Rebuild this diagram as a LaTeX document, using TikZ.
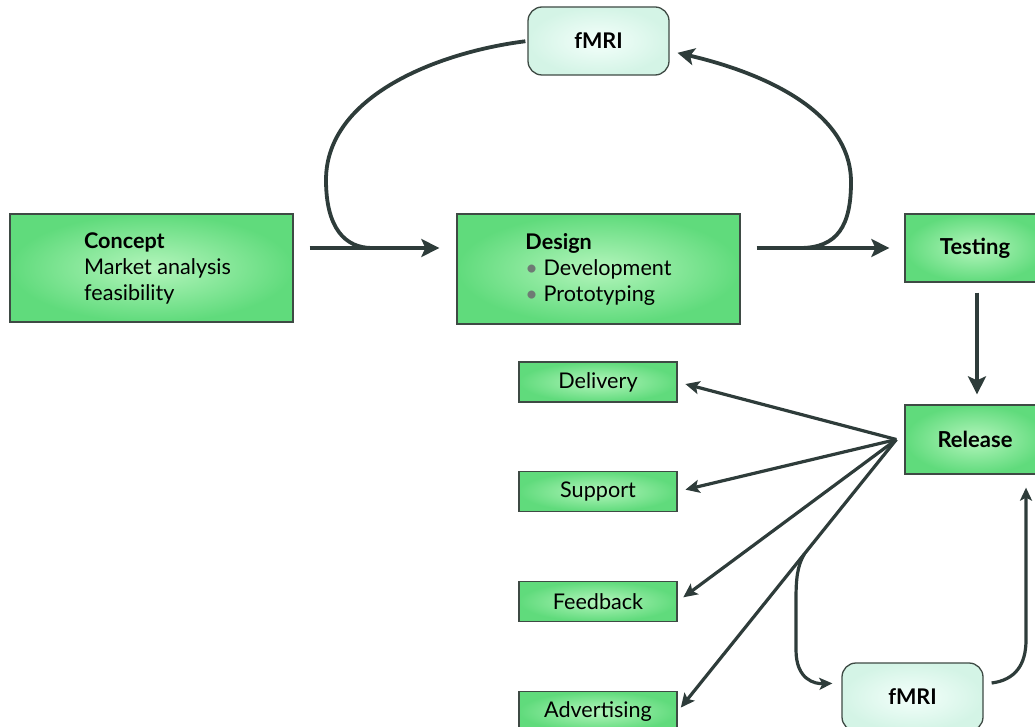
\documentclass[tikz,border=0pt]{standalone}
\usepackage{fontspec}
\setmainfont{Lato}
\usetikzlibrary{arrows.meta,calc}
\definecolor{ink}{HTML}{2E3C3A}
\definecolor{boxedge}{HTML}{3E4A44}
\definecolor{greenin}{HTML}{B4F5BC}
\definecolor{greenout}{HTML}{60DB7C}
\definecolor{mintin}{HTML}{F4FFFB}
\definecolor{mintout}{HTML}{D4F4E6}
\definecolor{dotgray}{HTML}{6E7A74}
\begin{document}
\begin{tikzpicture}[x=1pt,y=-1pt,
  stage/.style={draw=boxedge, line width=1.3pt, inner color=greenin, outer color=greenout,
    font=\fontsize{21.6}{26}\selectfont, align=left, inner sep=0pt},
  task/.style={stage, minimum width=158pt, minimum height=40pt, font=\fontsize{21.6}{24}\selectfont},
  probe/.style={draw=boxedge, line width=1.3pt, rounded corners=14pt, inner color=mintin, outer color=mintout,
    minimum width=141pt, minimum height=68pt, font=\bfseries\fontsize{21.6}{24}\selectfont},
  flow/.style={draw=ink, line width=4pt, -{Stealth[length=18pt,width=18pt,inset=4pt]}},
  loopline/.style={draw=ink, line width=3.8pt},
  loopflow/.style={loopline, -{Stealth[length=17pt,width=17pt,inset=4pt]}},
  fanflow/.style={draw=ink, line width=3.2pt, -{Stealth[length=14pt,width=13pt,inset=3pt]}},
  thinflow/.style={draw=ink, line width=3.2pt, -{Stealth[length=13pt,width=12pt,inset=3pt]}}
]
\clip (0,0) rectangle (1035,727);

% main stages
\node[stage, minimum width=283pt, minimum height=108pt] (concept) at (151.5,268)
  {\hspace*{12pt}\textbf{Concept}\\\hspace*{12pt}Market analysis\\\hspace*{12pt}feasibility};
\node[stage, minimum width=283pt, minimum height=110pt] (design) at (598.5,269)
  {\textbf{Design}\\{\color{dotgray}\textbullet} Development\\{\color{dotgray}\textbullet} Prototyping};
\node[stage, minimum width=140pt, minimum height=68pt, font=\bfseries\fontsize{22}{24}\selectfont] (testing) at (975,248) {Testing};
\node[stage, minimum width=140pt, minimum height=69pt, font=\bfseries\fontsize{22}{24}\selectfont] (release) at (975,439.5) {Release};

% release outputs
\node[task] (delivery) at (598,382) {Delivery};
\node[task] (support) at (598,491.5) {Support};
\node[task] (feedback) at (598,601.5) {Feedback};
\node[task] (advertising) at (598,711.5) {Advertising};

% fMRI probes
\node[probe] (fmriTop) at (598.5,41) {fMRI};
\node[probe] (fmriBot) at (912.5,697) {fMRI};

% main flow
\draw[flow, shorten <=16pt, shorten >=17pt] (concept.east |- testing.west) -- (design.west |- testing.west);
\draw[flow, shorten <=16pt, shorten >=15pt] (design.east |- testing.west) -- (testing.west);
\draw[flow, shorten <=10pt, shorten >=10pt] ([xshift=2pt]testing.south) -- ([xshift=2pt]release.north);

% loop through the upper fMRI probe
\coordinate (j1) at (372,248);
\coordinate (j2) at (800,248);
\draw[loopline, shorten <=2pt] (fmriTop.west) .. controls (440,52) and (326,95) .. (326,180)
  .. controls (326,228) and (345,248) .. (j1);
\draw[loopflow, shorten >=8pt] (j2) .. controls (838,248) and (851,225) .. (851,182)
  .. controls (851,110) and (760,72) .. ([yshift=-10pt]fmriTop.east);

% fan of release outputs
\coordinate (fan) at ([xshift=-8pt]release.west);
\draw[fanflow, shorten >=8pt] (fan) -- (delivery.east);
\draw[fanflow, shorten >=8pt] (fan) -- (support.east);
\draw[fanflow, shorten >=7pt] (fan) -- (feedback.east);
\draw[fanflow, shorten >=5pt] (fan) -- (advertising.east);

% loop through the lower fMRI probe
\coordinate (b) at ($(fan)!0.42!(advertising.east)$);
\draw[thinflow, shorten >=9pt] (b) .. controls (797,566) and (796,580) .. (796,600) -- (796,650)
  .. controls (796,680) and (815,684) .. ([yshift=14pt]fmriBot.west);
\draw[thinflow, shorten >=13pt] ([xshift=8pt,yshift=14pt]fmriBot.east) .. controls (1015,680) and (1026,665) .. (1026,640)
  -- ([xshift=51pt]release.south);
\end{tikzpicture}
\end{document}
